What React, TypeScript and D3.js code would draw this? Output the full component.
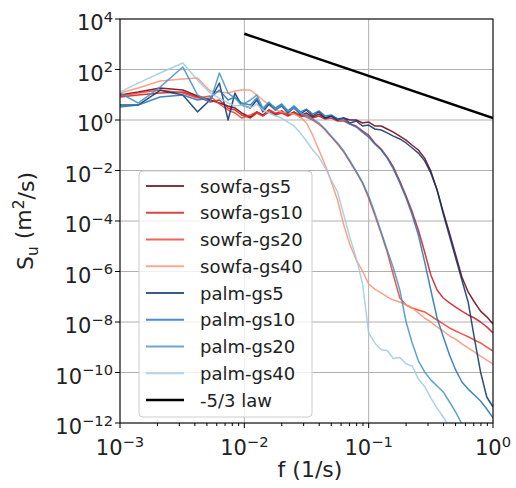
import { useEffect, useRef } from "react"
import * as d3 from "d3"

// frequency bins (1/s)
const freq = [
  0.001, 0.0014, 0.0021, 0.0032, 0.0042, 0.0053, 0.0063, 0.0074, 0.0084, 0.0095,
  0.0112, 0.0126, 0.0141, 0.0158, 0.0178, 0.02, 0.0224, 0.0251, 0.0282, 0.0316,
  0.0355, 0.0398, 0.0447, 0.0501, 0.0562, 0.0631, 0.0708, 0.0794, 0.0891, 0.1,
  0.112, 0.126, 0.141, 0.158, 0.178, 0.2, 0.224, 0.251, 0.282, 0.316,
  0.355, 0.398, 0.447, 0.501, 0.562, 0.631, 0.708, 0.794, 0.891, 1.0,
]

// spectra S_u (m^2/s), one value per bin
const sowfaGs5 = [
  9.8, 12.8, 18.5, 15.4, 8.9, 6.2, 4.7, 3.6, 3.0, 1.9,
  1.3, 2.1, 1.58, 2.5, 1.7, 2.3, 1.58, 2.1, 1.44, 1.9,
  1.3, 1.7, 1.2, 1.44, 1.1, 1.2, 1.0, 1.0, 0.76, 0.83,
  0.58, 0.58, 0.44, 0.33, 0.23, 0.16, 0.1, 0.065, 0.031, 9.5e-3,
  1.7e-3, 2.3e-4, 3.3e-5, 4.5e-6, 6.1e-7, 1.55e-7, 6.2e-8, 2.7e-8, 1.6e-8, 8.4e-9,
]
const sowfaGs10 = [
  8.1, 9.8, 11.7, 12.8, 8.1, 5.2, 6.2, 3.0, 2.5, 1.58,
  1.2, 1.9, 1.44, 2.1, 1.58, 1.9, 1.44, 1.9, 1.3, 1.58,
  1.2, 1.44, 1.1, 1.2, 0.91, 0.91, 0.69, 0.58, 0.37, 0.25,
  0.123, 0.071, 0.034, 0.0138, 3.8e-3, 9.8e-4, 2.3e-4, 4.4e-5, 5.9e-6, 7.3e-7,
  1.85e-7, 8.9e-8, 5.7e-8, 3.9e-8, 2.7e-8, 1.9e-8, 1.44e-8, 1.0e-8, 6.4e-9, 3.7e-9,
]
const sowfaGs20 = [
  8.9, 11.7, 15.4, 11.7, 7.4, 8.9, 4.3, 2.5, 1.9, 1.2,
  1.58, 2.1, 1.44, 2.5, 1.9, 2.1, 1.7, 1.9, 1.58, 1.3,
  1.0, 0.69, 0.4, 0.21, 0.112, 0.054, 0.0217, 8.7e-3, 3.2e-3, 8.1e-4,
  1.73e-4, 3.3e-5, 5.9e-6, 7.3e-7, 8.9e-8, 4.7e-8, 3.6e-8, 3.0e-8, 2.5e-8, 1.73e-8,
  1.2e-8, 8.4e-9, 5.8e-9, 4.4e-9, 3.4e-9, 2.6e-9, 1.94e-9, 1.48e-9, 1.02e-9, 7.1e-10,
]
const sowfaGs40 = [
  11.7, 18.5, 35, 42, 46, 14, 12.8, 11.7, 14, 15.4,
  15.4, 9.8, 6.2, 3.9, 2.5, 2.1, 1.9, 1.7, 1.3, 0.76,
  0.25, 0.065, 0.0165, 3.5e-3, 6.8e-4, 6.9e-5, 1.12e-5, 2.9e-6, 1.05e-6, 3.2e-7,
  2.0e-7, 1.41e-7, 9.8e-8, 7.4e-8, 6.2e-8, 4.7e-8, 3.6e-8, 2.3e-8, 1.44e-8, 1.0e-8,
  6.4e-9, 4.4e-9, 2.8e-9, 2.1e-9, 1.35e-9, 9.4e-10, 6.5e-10, 4.5e-10, 3.1e-10, 2.2e-10,
]
const palmGs5 = [
  3.9, 3.9, 15, 9.8, 2.1, 6.2, 29, 1.0, 11.7, 3.9,
  3.0, 6.2, 2.1, 4.3, 2.5, 3.6, 1.9, 3.0, 1.7, 2.5,
  1.44, 2.1, 1.2, 1.44, 1.0, 1.2, 0.76, 0.91, 0.58, 0.63,
  0.44, 0.4, 0.31, 0.23, 0.177, 0.123, 0.078, 0.049, 0.024, 8.0e-3,
  1.7e-3, 1.9e-4, 2.5e-5, 3.4e-6, 4.6e-7, 6.2e-8, 2.3e-9, 1.05e-10, 1.07e-11, 4.3e-12,
]
const palmGs10 = [
  3.3, 3.9, 8.1, 9.8, 6.2, 7.4, 15.4, 6.2, 8.1, 4.7,
  3.9, 7.4, 2.5, 4.7, 3.0, 4.3, 2.3, 3.6, 2.1, 2.7,
  1.7, 2.3, 1.44, 1.58, 1.1, 1.1, 0.69, 0.53, 0.33, 0.21,
  0.112, 0.065, 0.031, 0.0115, 3.2e-3, 8.1e-4, 1.73e-4, 2.8e-5, 2.4e-6, 1.85e-7,
  1.44e-8, 2.6e-9, 4.9e-10, 1.26e-10, 4.2e-11, 2.2e-11, 1.29e-11, 7.4e-12, 3.6e-12, 1.6e-12,
]
const palmGs20 = [
  11.7, 4.7, 20, 126, 9.8, 5.2, 73, 11.7, 7.4, 3.9,
  6.2, 9.8, 3.0, 5.2, 2.5, 3.9, 2.1, 3.0, 1.9, 1.44,
  1.1, 0.76, 0.44, 0.23, 0.123, 0.059, 0.024, 9.5e-3, 3.5e-3, 9.8e-4,
  2.1e-4, 3.7e-5, 7.1e-6, 1.38e-6, 1.85e-7, 1.0e-8, 1.48e-9, 2.9e-10, 1.05e-10, 5.1e-11,
  2.9e-11, 1.7e-11, 6.8e-12, 2.7e-12, 9.2e-13, 3.4e-13, 1.35e-13, 5.4e-14, 2.2e-14, 8.7e-15,
]
const palmGs40 = [
  12.8, 29, 73, 181, 38, 11.7, 7.4, 4.7, 3.6, 3.9,
  3.0, 4.3, 2.5, 1.9, 1.44, 1.2, 0.83, 0.58, 0.31, 0.147,
  0.065, 0.034, 0.0126, 4.2e-3, 1.41e-3, 1.73e-4, 2.1e-5, 3.4e-6, 3.5e-7, 3.7e-9,
  1.48e-9, 8.0e-10, 7.4e-10, 3.6e-10, 3.9e-10, 2.2e-10, 1.8e-10, 5.5e-11, 2.8e-11, 9.8e-12,
  3.9e-12, 1.73e-12, 7.0e-13, 2.8e-13, 1.12e-13, 4.5e-14, 1.8e-14, 7.3e-15, 2.9e-15, 1.17e-15,
]

const seriesNames = [
  "sowfa-gs5", "sowfa-gs10", "sowfa-gs20", "sowfa-gs40",
  "palm-gs5", "palm-gs10", "palm-gs20", "palm-gs40",
]
const seriesValues = [sowfaGs5, sowfaGs10, sowfaGs20, sowfaGs40, palmGs5, palmGs10, palmGs20, palmGs40]
const seriesColors = [
  "#67000d", "#cb181d", "#ef3b2c", "#fc9272",
  "#08306b", "#2171b5", "#4292c6", "#9ecae1",
]

// -5/3 reference line
const lawFreq = [0.01, 1]
const lawS = [2600, 1.2]
const lawName = "-5/3 law"

const xTicks = [1e-3, 1e-2, 1e-1, 1]
const xTickExp = ["\u22123", "\u22122", "\u22121", "0"]
const yTicks = [1e4, 1e2, 1, 1e-2, 1e-4, 1e-6, 1e-8, 1e-10, 1e-12]
const yTickExp = ["4", "2", "0", "\u22122", "\u22124", "\u22126", "\u22128", "\u221210", "\u221212"]

export default function App() {
  const svgRef = useRef<SVGSVGElement>(null)

  useEffect(() => {
    const svg = d3.select(svgRef.current)
    svg.selectAll("*").remove()
    const font = "DejaVu Sans"
    const L = 120, R = 493, T = 19, B = 423

    const x = d3.scaleLog().domain([1e-3, 1]).range([L, R])
    const y = d3.scaleLog().domain([1e-12, 1e4]).range([B, T])

    svg.append("defs").append("clipPath").attr("id", "plotclip")
      .append("rect").attr("x", L).attr("y", T).attr("width", R - L).attr("height", B - T)

    // grid
    const grid = svg.append("g").attr("stroke", "#b0b0b0").attr("stroke-width", 1)
    xTicks.forEach(t => {
      grid.append("line").attr("x1", x(t)).attr("x2", x(t)).attr("y1", T).attr("y2", B)
    })
    yTicks.forEach(t => {
      grid.append("line").attr("x1", L).attr("x2", R).attr("y1", y(t)).attr("y2", y(t))
    })

    // spectra
    const line = d3.line<number>()
      .x((_, i) => x(freq[i]))
      .y(d => y(d))

    const plot = svg.append("g").attr("clip-path", "url(#plotclip)")
    seriesValues.forEach((vals, i) => {
      plot.append("path")
        .datum(vals)
        .attr("fill", "none")
        .attr("stroke", seriesColors[i])
        .attr("stroke-opacity", 0.85)
        .attr("stroke-width", 1.5)
        .attr("stroke-linejoin", "round")
        .attr("d", line)
    })

    plot.append("path")
      .datum(lawS)
      .attr("fill", "none")
      .attr("stroke", "black")
      .attr("stroke-width", 2.5)
      .attr("d", d3.line<number>().x((_, i) => x(lawFreq[i])).y(d => y(d)))

    // spines
    svg.append("rect")
      .attr("x", L).attr("y", T).attr("width", R - L).attr("height", B - T)
      .attr("fill", "none").attr("stroke", "black").attr("stroke-width", 1)

    // ticks
    const ticks = svg.append("g").attr("stroke", "black").attr("stroke-width", 1)
    xTicks.forEach(t => {
      ticks.append("line").attr("x1", x(t)).attr("x2", x(t)).attr("y1", B).attr("y2", B + 5)
    })
    for (let d = -3; d < 0; d++) {
      for (let m = 2; m <= 9; m++) {
        const v = m * Math.pow(10, d)
        ticks.append("line").attr("x1", x(v)).attr("x2", x(v)).attr("y1", B).attr("y2", B + 3)
      }
    }
    yTicks.forEach(t => {
      ticks.append("line").attr("x1", L - 5).attr("x2", L).attr("y1", y(t)).attr("y2", y(t))
    })

    const powLabel = (g, px, py, exp, anchor) => {
      const t = g.append("text")
        .attr("x", px).attr("y", py)
        .attr("text-anchor", anchor)
        .attr("font-family", font)
        .attr("font-size", 21)
        .attr("fill", "#222")
      t.append("tspan").text("10")
      t.append("tspan").attr("dy", "-0.55em").attr("font-size", "0.7em").text(exp)
    }
    const labels = svg.append("g")
    xTicks.forEach((t, i) => powLabel(labels, x(t), 455, xTickExp[i], "middle"))
    yTicks.forEach((t, i) => powLabel(labels, 113, y(t) + 11, yTickExp[i], "end"))

    // axis labels
    svg.append("text")
      .attr("x", 310).attr("y", 477)
      .attr("text-anchor", "middle")
      .attr("font-family", font).attr("font-size", 22).attr("fill", "#222")
      .text("f (1/s)")

    const yl = svg.append("text")
      .attr("transform", "translate(33,221) rotate(-90)")
      .attr("text-anchor", "middle")
      .attr("font-family", font).attr("font-size", 22).attr("fill", "#222")
    yl.append("tspan").text("S")
    yl.append("tspan").attr("dy", "0.3em").attr("font-size", "0.7em").text("u")
    yl.append("tspan").attr("dy", "-0.3em").text(" (m")
    yl.append("tspan").attr("dy", "-0.45em").attr("font-size", "0.7em").text("2")
    yl.append("tspan").attr("dy", "0.45em").text("/s)")

    // legend
    const lg = svg.append("g")
    lg.append("rect")
      .attr("x", 139).attr("y", 171).attr("width", 173).attr("height", 246)
      .attr("rx", 4)
      .attr("fill", "white").attr("fill-opacity", 0.8)
      .attr("stroke", "#cccccc").attr("stroke-width", 1)
    const names = [...seriesNames, lawName]
    const colors = [...seriesColors, "black"]
    names.forEach((n, i) => {
      const cy = 186 + i * 26.75
      lg.append("line")
        .attr("x1", 146).attr("x2", 184).attr("y1", cy).attr("y2", cy)
        .attr("stroke", colors[i])
        .attr("stroke-opacity", i < 8 ? 0.8 : 1)
        .attr("stroke-width", i < 8 ? 2 : 2.5)
      lg.append("text")
        .attr("x", 200).attr("y", cy)
        .attr("dominant-baseline", "central")
        .attr("font-family", font).attr("font-size", 18).attr("fill", "#222")
        .text(n)
    })
  }, [])

  return (
    <svg
      ref={svgRef}
      width={516}
      height={488}
      style={{ position: "absolute", left: 0, top: 0, background: "white" }}
    />
  )
}
